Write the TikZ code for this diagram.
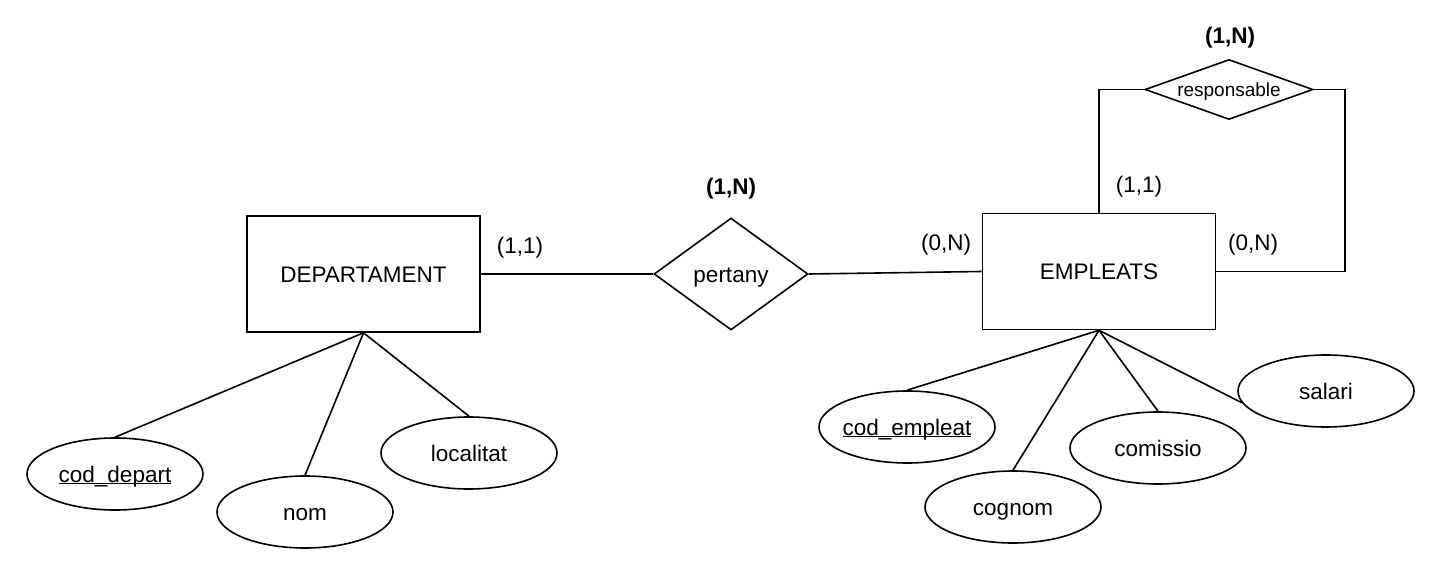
\documentclass[tikz,border=0pt]{standalone}
\usepackage{fontspec}
\setmainfont{Liberation Sans}
\usetikzlibrary{shapes.geometric}
\begin{document}
\begin{tikzpicture}[x=1pt,y=-1pt,
  every node/.style={font=\fontsize{22.5}{27}\selectfont},
  every label/.style={text height=16.5pt,text depth=0pt,inner sep=0pt},
  ent/.style={draw,line width=1.6pt,minimum width=233pt,minimum height=116pt,inner sep=0pt,text height=16.5pt,text depth=0pt},
  rel/.style={draw,diamond,line width=1.6pt,inner sep=0pt},
  attr/.style={draw,ellipse,line width=1.6pt,minimum width=176pt,minimum height=72pt,inner sep=0pt},
  card/.style={inner sep=0pt},
  conn/.style={line width=1.6pt}]
\useasboundingbox (0,0) rectangle (1430,564);
\node[ent] (dep) at (363.5,274) {DEPARTAMENT};
\node[ent] (emp) at (1099,271.5) {EMPLEATS};
\node[rel,minimum width=154pt,minimum height=112pt,label={center:pertany}] (pert) at (731,274) {};
\node[rel,minimum width=168pt,minimum height=60pt,label={[text height=15pt]center:{\fontsize{19}{23}\selectfont responsable}}] (resp) at (1229,89.5) {};
\coordinate (rc) at (1345,89.5);

\node[attr,label={center:\underline{\smash{cod\_depart}}}] (cd) at (115,474) {};
\node[attr,label={center:nom}] (nom) at (305,512) {};
\node[attr,label={center:localitat}] (loc) at (469,453) {};
\node[attr,label={center:\underline{\smash{cod\_empleat}}}] (ce) at (907,427) {};
\node[attr,label={center:cognom}] (cog) at (1013,507) {};
\node[attr,label={center:comissio}] (com) at (1158,448) {};
\node[attr,label={center:salari}] (sal) at (1326,391) {};

\node[card] (c1) at (520,248) {(1,1)};
\node[card] (c2) at (946,245) {(0,N)};
\node[card,font=\fontsize{22.5}{27}\selectfont\bfseries] (c3) at (731,189) {(1,N)};
\node[card] (c4) at (1139,187) {(1,1)};
\node[card] (c5) at (1253,245) {(0,N)};
\node[card,font=\fontsize{22.5}{27}\selectfont\bfseries] (c6) at (1230,38) {(1,N)};

\draw[conn] (dep.east) -- (pert.west);
\draw[conn] (pert.east) -- (emp.west);
\draw[conn] (emp.north) |- (resp.west);
\draw[conn] (resp.east) -- (rc) |- (emp.east);

\draw[conn] (dep.south) -- (cd.north);
\draw[conn] (dep.south) -- (nom.north);
\draw[conn] (dep.south) -- (loc.north);
\draw[conn] (emp.south) -- (ce.north);
\draw[conn] (emp.south) -- (cog.north);
\draw[conn] (emp.south) -- (com.north);
\draw[conn] (emp.south) -- (sal.188);
\end{tikzpicture}
\end{document}
